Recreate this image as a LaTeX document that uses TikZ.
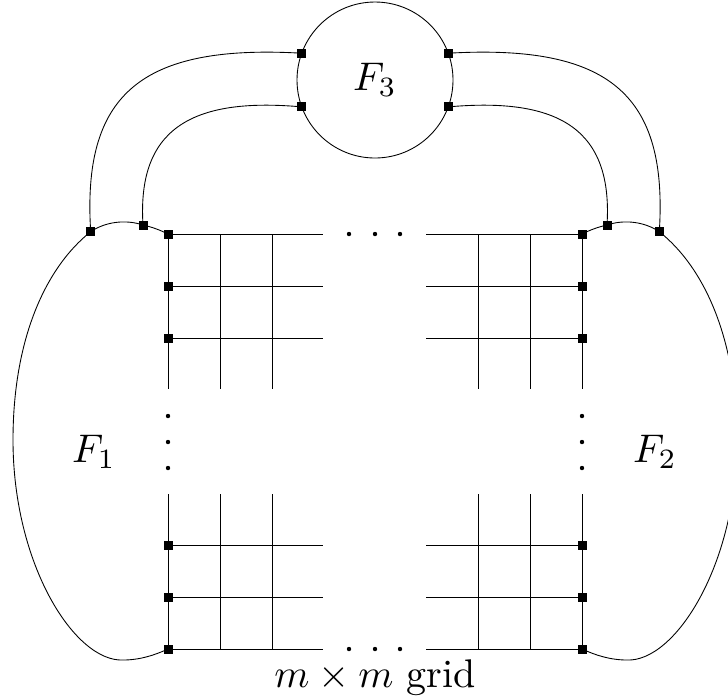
\documentclass[tikz,border=0pt]{standalone}
\usepackage{amsmath}
\usetikzlibrary{positioning}

\begin{document}
\begin{tikzpicture}[x=0.25pt, y=-0.25pt, line width=0.22pt,
    port/.style={draw, fill=black, rectangle, minimum size=2pt, inner sep=0pt},
    gdot/.style={circle, fill=black, inner sep=0pt, minimum size=1.1pt}]
  \useasboundingbox (0,0) rectangle (728,699);

  % face F3 and its four ports
  \node[draw, circle, minimum size=39pt, inner sep=0pt] (f3) at (375,80) {$F_3$};
  \coordinate (t1) at (f3.160);
  \coordinate (t2) at (f3.200);
  \coordinate (t3) at (f3.20);
  \coordinate (t4) at (f3.340);

  % grid
  \foreach \y [count=\i] in {234,286,338,545,597,649} {
    \coordinate (l\i) at (168,\y);
    \coordinate (r\i) at (582,\y);
    \draw (l\i) -- (323,\y);
    \draw (426,\y) -- (r\i);
  }
  \foreach \x in {168,220,272,478,530,582} {
    \draw (\x,234) -- (\x,389);
    \draw (\x,494) -- (\x,649);
  }
  \foreach \x in {349,375,400} {
    \node[gdot] at (\x,234) {};
    \node[gdot] at (\x,649) {};
  }
  \foreach \y in {416,442,468} {
    \node[gdot] at (168,\y) {};
    \node[gdot] at (582,\y) {};
  }

  % points on the outer faces
  \coordinate (a1) at (90.7,231.7);
  \coordinate (a2) at (143,225);
  \coordinate (b1) at (659.3,231.7);
  \coordinate (b2) at (607,225);

  % face F1
  \draw (l1) .. controls (160,230) and (152,227) .. (a2)
    .. controls (125,219) and (105,222) .. (a1)
    .. controls (45,268) and (13,340) .. (13,440)
    .. controls (13,565) and (75,662) .. (123,660)
    .. controls (140,660) and (155,655) .. (l6);
  % face F2
  \draw (r1) .. controls (590,230) and (598,227) .. (b2)
    .. controls (625,219) and (645,222) .. (b1)
    .. controls (705,268) and (737,340) .. (737,440)
    .. controls (737,565) and (675,662) .. (627,660)
    .. controls (610,660) and (595,655) .. (r6);

  % connectors to F3
  \draw (t1) .. controls (140,44) and (82,95) .. (a1);
  \draw (t2) .. controls (190,97) and (137,130) .. (a2);
  \draw (t3) .. controls (610,44) and (668,95) .. (b1);
  \draw (t4) .. controls (560,97) and (613,130) .. (b2);

  % ports
  \foreach \c in {t1,t2,t3,t4,a1,a2,b1,b2}
    \node[port] at (\c) {};
  \foreach \i in {1,...,6} {
    \node[port] at (l\i) {};
    \node[port] at (r\i) {};
  }

  % labels
  \node (lf1) at (94,452) {$F_1$};
  \node (lf2) at (655,452) {$F_2$};
  \node (cap) at (375,678) {$m \times m$ grid};
\end{tikzpicture}
\end{document}
